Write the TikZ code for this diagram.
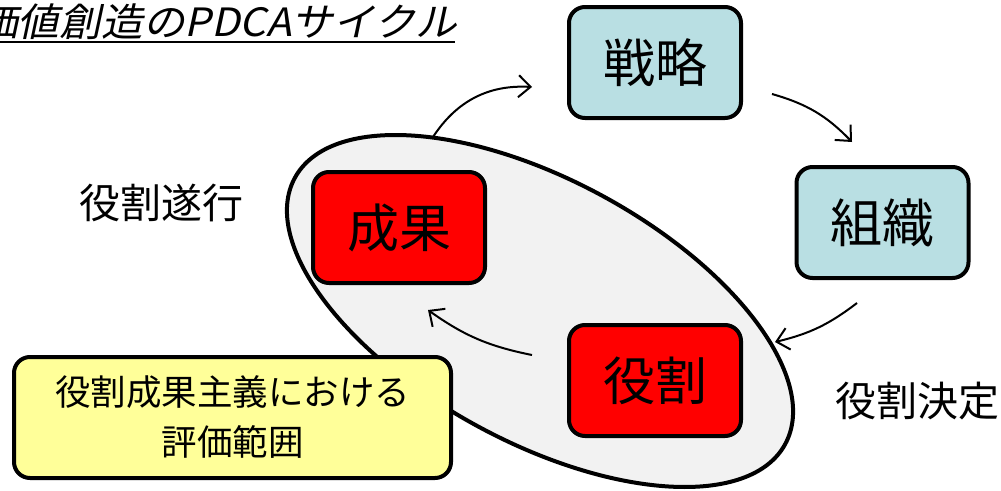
\documentclass[tikz,border=0pt]{standalone}
\usepackage{graphicx}
\usepackage{fontspec}
\setmainfont{Noto Sans CJK JP}
\newfontfamily\titlefont[FakeSlant=0.2]{Noto Sans CJK JP}
\usetikzlibrary{arrows.meta,shapes.geometric}
\definecolor{boxblue}{RGB}{185,223,227}
\definecolor{ellgray}{RGB}{242,242,242}
\definecolor{noteyellow}{RGB}{255,255,153}
\begin{document}
\begin{tikzpicture}[x=1pt,y=-1pt,
  box/.style={draw=black, line width=4pt, rounded corners=16pt, minimum width=172pt, minimum height=111pt, inner sep=0pt, font=\fontsize{52}{60}\selectfont},
  planbox/.style={box, fill=boxblue},
  actbox/.style={box, fill=red},
  arr/.style={-{Straight Barb[length=12pt,width=22pt]}, line width=2pt},
  lbl/.style={font=\fontsize{41}{48}\selectfont, inner sep=0pt}]
\clip (0,0) rectangle (1001,490);
\fill[white] (0,0) rectangle (1001,490);

% evaluation range ellipse
\node[draw=black, line width=4pt, fill=ellgray, ellipse, minimum width=558pt, minimum height=262pt, inner sep=0pt, rotate=-28.5] (ell) at (540,311) {};

% title
\node[anchor=base east, inner sep=0pt, font=\titlefont\fontsize{39}{44}\selectfont] (title) at (457,36) {\scalebox{1.07}[1]{価値創造のPDCAサイクル}};
\coordinate (ul1) at (0,42);
\coordinate (ul2) at (455,42);
\draw[line width=2pt] (ul1) -- (ul2);

% boxes
\node[planbox] (senryaku) at (655,62.5) {戦略};
\node[planbox] (soshiki) at (882.5,222.5) {組織};
\node[actbox] (seika) at (399,227.5) {成果};
\node[actbox] (yakuwari) at (655,380.5) {役割};

% note
\node[draw=black, line width=4pt, rounded corners=16pt, fill=noteyellow, minimum width=437pt, minimum height=121pt, inner sep=0pt, align=center, font=\fontsize{35.5}{50}\selectfont] (note) at (232.5,417.5) {役割成果主義における\\評価範囲};

% labels
\node[lbl] (l1) at (161,203) {役割遂行};
\node[lbl] (l2) at (917,401) {役割決定};

% arrows
\coordinate (a1s) at (433,137); \coordinate (a1e) at (532,87);
\coordinate (a2s) at (772,94);  \coordinate (a2e) at (852,142);
\coordinate (a3s) at (857,303); \coordinate (a3e) at (775,342);
\coordinate (a4s) at (532,355); \coordinate (a4e) at (428,310);
\draw[arr] (a1s) to[bend left=30] (a1e);
\draw[arr] (a2s) to[bend left=15] (a2e);
\draw[arr] (a3s) to[bend left=12] (a3e);
\draw[arr] (a4s) to[bend left=12] (a4e);
\end{tikzpicture}
\end{document}
